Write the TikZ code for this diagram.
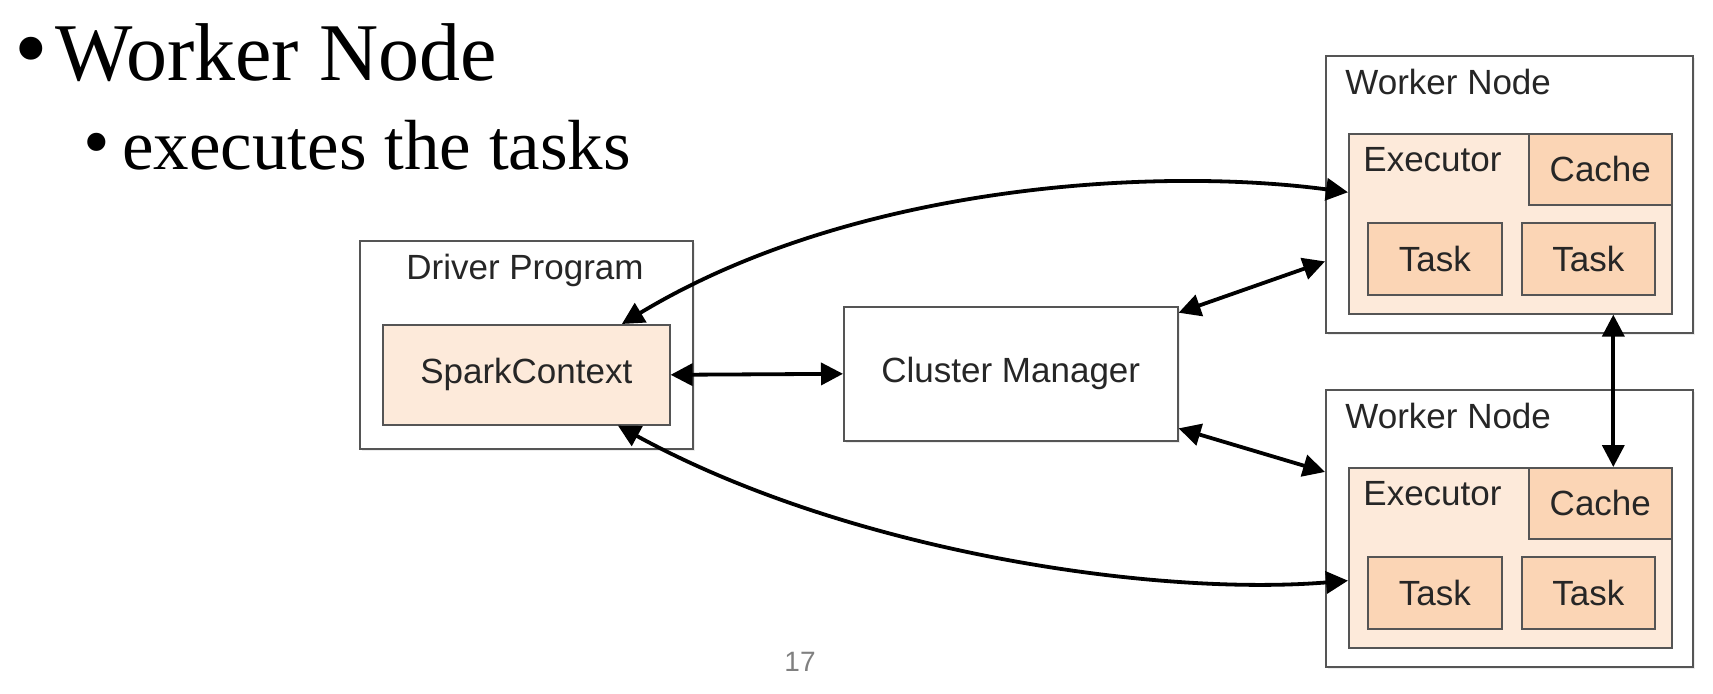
\documentclass[tikz,border=0pt]{standalone}
\usepackage{fontspec}
\setmainfont{Liberation Serif}
\newfontfamily\helv{Liberation Sans}
\usetikzlibrary{arrows.meta,shadows}
\definecolor{execfill}{RGB}{253,234,218}
\definecolor{taskfill}{RGB}{251,213,181}
\definecolor{edge}{RGB}{85,85,85}
\definecolor{pagegray}{RGB}{128,128,128}

\begin{document}
\begin{tikzpicture}[x=0.5pt,y=-0.5pt,
    txt/.style={font=\helv\fontsize{17.5}{20}\selectfont, text=black!85},
    box/.style={txt, draw=edge, line width=0.8pt, inner sep=0pt, anchor=north west},
    outer/.style={box, fill=white, drop shadow={shadow xshift=1.2pt, shadow yshift=-1.2pt, opacity=0.15}},
    exec/.style={box, fill=execfill},
    part/.style={box, fill=taskfill},
    link/.style={line width=1.9pt, {Triangle[length=11pt,width=11pt]}-{Triangle[length=11pt,width=11pt]}}]
    \useasboundingbox (0,0) rectangle (1713,693);

    % Slide text
    \node[inner sep=0pt, font=\fontsize{48}{48}\selectfont] (headdot) at (31,59) {•};
    \node[anchor=base west, inner sep=0pt, font=\fontsize{41}{41}\selectfont] (head) at (55,80) {Worker Node};
    \node[inner sep=0pt, font=\fontsize{38}{38}\selectfont] (subdot) at (97,150) {•};
    \node[anchor=base west, inner sep=0pt, font=\fontsize{35.5}{36}\selectfont] (sub) at (122,169) {executes the tasks};

    % Driver
    \node[outer, minimum width=166.5pt, minimum height=104pt] (driver) at (359,240) {};
    \node[txt, inner sep=0pt] (drivertxt) at (525,270) {Driver Program};
    \node[exec, minimum width=143.5pt, minimum height=50pt] (sc) at (382,324) {SparkContext};

    % Cluster manager
    \node[outer, minimum width=167pt, minimum height=67pt] (cm) at (843,306) {Cluster Manager};

    % Workers
    \foreach \i/\dy in {1/0, 2/334} {
        \node[outer, minimum width=183.5pt, minimum height=138.5pt] (w\i) at (1325,55+\dy) {};
        \node[txt, anchor=west, inner sep=0pt] (wtxt\i) at (1345,82+\dy) {Worker Node};
        \node[exec, minimum width=161.5pt, minimum height=90pt] (ex\i) at (1348,133+\dy) {};
        \node[txt, anchor=west, inner sep=0pt] (extxt\i) at (1363,160+\dy) {Executor};
        \node[part, minimum width=71.5pt, minimum height=35.5pt] (ca\i) at (1528,133+\dy) {Cache};
        \node[part, minimum width=67pt, minimum height=36pt] (ta\i) at (1367,222+\dy) {Task};
        \node[part, minimum width=66.5pt, minimum height=36pt] (tb\i) at (1521,222+\dy) {Task};
    }

    % Page number
    \node[txt, text=pagegray, font=\helv\fontsize{14}{14}\selectfont] (page) at (800,662) {17};

    % Arrows
    \draw[link] (sc.east) -- (cm.west);
    \draw[link] (cm.20) -- (w1.200);
    \draw[link] (cm.-18) -- (w2.163);
    \draw[link] (sc.28) .. controls +(230,-139) and +(-194,-26) .. (ex1.169);
    \draw[link] (sc.-29) .. controls +(230,126) and +(-194,16) .. (ex2.188);
    \path (ca1.south |- ex1.south) ++(13,0) coordinate (vtop);
    \path (ca2.north) ++(13,0) coordinate (vbot);
    \draw[link] (vtop) -- (vbot);
\end{tikzpicture}
\end{document}
